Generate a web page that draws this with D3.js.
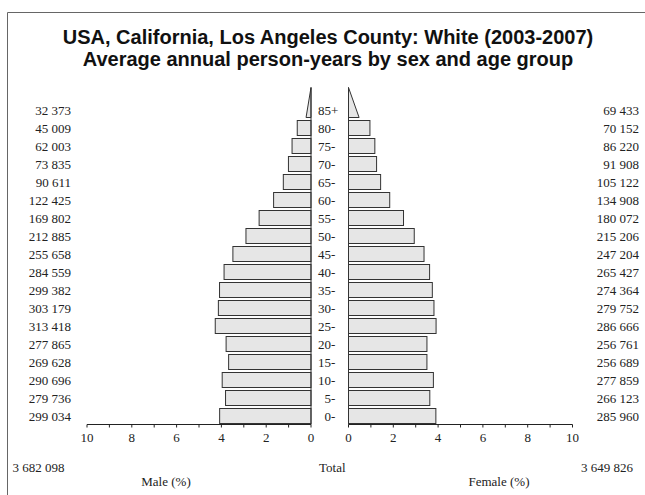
<!DOCTYPE html>
<html>
<head>
<meta charset="utf-8">
<script src="https://cdn.jsdelivr.net/npm/d3@7"></script>
<style>
  body { margin: 0; background: #fff; }
  text { font-family: "Liberation Serif", "Times New Roman", serif; font-size: 13px; fill: #222; }
  .title { font-family: "Liberation Sans", Arial, sans-serif; font-weight: bold; font-size: 20px; fill: #111; }
</style>
</head>
<body>
<div id="chart"></div>
<script>
var w = 645;
var h = 495;

// age groups, youngest first
var ages = ["0-", "5-", "10-", "15-", "20-", "25-", "30-", "35-", "40-", "45-",
            "50-", "55-", "60-", "65-", "70-", "75-", "80-", "85+"];
var male = [299034, 279736, 290696, 269628, 277865, 313418, 303179, 299382, 284559, 255658,
            212885, 169802, 122425, 90611, 73835, 62003, 45009, 32373];
var female = [285960, 266123, 277859, 256689, 256761, 286666, 279752, 274364, 265427, 247204,
              215206, 180072, 134908, 105122, 91908, 86220, 70152, 69433];
var maleTotal = 3682098;
var femaleTotal = 3649826;
var pctTicks = [0, 1, 2, 3, 4, 5, 6, 7, 8, 9, 10];
var pctLabels = [0, 2, 4, 6, 8, 10];

var total = maleTotal + femaleTotal;
var fmt = function(v) { return d3.format(",")(v).replace(/,/g, " "); };

var svg = d3.select("#chart")
  .append("svg")
  .attr("width", w)
  .attr("height", h);

// frame
svg.append("path")
  .attr("d", "M7.5," + h + "V12.5H" + w)
  .attr("fill", "none")
  .attr("stroke", "#666")
  .attr("stroke-width", 1);

// titles
svg.append("text").attr("class", "title")
  .attr("x", 328).attr("y", 44).attr("text-anchor", "middle")
  .text("USA, California, Los Angeles County: White (2003-2007)");
svg.append("text").attr("class", "title")
  .attr("x", 328).attr("y", 66).attr("text-anchor", "middle")
  .text("Average annual person-years by sex and age group");

// scales
var xMale = d3.scaleLinear().domain([0, 10]).range([311, 87]);
var xFemale = d3.scaleLinear().domain([0, 10]).range([348.5, 572.5]);
var y = d3.scaleBand()
  .domain(ages.slice().reverse())
  .range([101, 425])
  .paddingInner(1 / 6)
  .paddingOuter(1 / 12);
var bw = y.bandwidth();
var axisY = 424.5;

var rows = ages.map(function(a, i) {
  return { age: a, m: male[i], f: female[i], mp: male[i] / total * 100, fp: female[i] / total * 100 };
});
var openRows = rows.filter(function(d) { return d.age == "85+"; });
var barRows = rows.filter(function(d) { return d.age != "85+"; });

function drawSide(x, key) {
  svg.selectAll("rect." + key)
    .data(barRows)
    .enter()
    .append("rect")
    .attr("class", key)
    .attr("x", function(d) { return Math.min(x(0), x(d[key])); })
    .attr("y", function(d) { return y(d.age); })
    .attr("width", function(d) { return Math.abs(x(d[key]) - x(0)); })
    .attr("height", bw)
    .attr("fill", "#e6e6e6")
    .attr("stroke", "#333")
    .attr("stroke-width", 1);

  // open-ended group drawn as a triangle
  svg.selectAll("path." + key)
    .data(openRows)
    .enter()
    .append("path")
    .attr("class", key)
    .attr("d", function(d) {
      var b = y(d.age) + bw;
      var t = b - 2 * bw;
      var xe = x(d[key] / 2);
      return "M" + x(0) + "," + t + "L" + xe + "," + b + "L" + x(0) + "," + b + "Z";
    })
    .attr("fill", "#e6e6e6")
    .attr("stroke", "#333")
    .attr("stroke-width", 1);

  // baseline
  var topY = y("85+") + bw - 2 * bw;
  svg.append("line")
    .attr("x1", x(0)).attr("x2", x(0))
    .attr("y1", topY).attr("y2", axisY)
    .attr("stroke", "#333");

  // axis
  svg.append("line")
    .attr("x1", x(0)).attr("x2", x(10))
    .attr("y1", axisY).attr("y2", axisY)
    .attr("stroke", "#222");
  svg.selectAll("line.tick" + key)
    .data(pctTicks)
    .enter()
    .append("line")
    .attr("x1", function(d) { return x(d); })
    .attr("x2", function(d) { return x(d); })
    .attr("y1", axisY).attr("y2", axisY + 3)
    .attr("stroke", "#222");
  svg.selectAll("text.tick" + key)
    .data(pctLabels)
    .enter()
    .append("text")
    .attr("x", function(d) { return x(d); })
    .attr("y", axisY + 17)
    .attr("text-anchor", "middle")
    .text(function(d) { return d; });
}

drawSide(xMale, "mp");
drawSide(xFemale, "fp");

// age labels
svg.selectAll("text.age")
  .data(rows)
  .enter()
  .append("text")
  .attr("x", function(d) { return d.age.length < 3 ? 324.5 : 318; })
  .attr("y", function(d) { return y(d.age) + bw / 2 + 4.5; })
  .text(function(d) { return d.age; });

// value labels
svg.selectAll("text.mval")
  .data(rows)
  .enter()
  .append("text")
  .attr("x", 71)
  .attr("y", function(d) { return y(d.age) + bw / 2 + 4.5; })
  .attr("text-anchor", "end")
  .text(function(d) { return fmt(d.m); });
svg.selectAll("text.fval")
  .data(rows)
  .enter()
  .append("text")
  .attr("x", 639)
  .attr("y", function(d) { return y(d.age) + bw / 2 + 4.5; })
  .attr("text-anchor", "end")
  .text(function(d) { return fmt(d.f); });

// totals and axis titles
svg.append("text").attr("x", 12.5).attr("y", 471.5).text(fmt(maleTotal));
svg.append("text").attr("x", 319).attr("y", 471.5).text("Total");
svg.append("text").attr("x", 633).attr("y", 471.5).attr("text-anchor", "end").text(fmt(femaleTotal));
svg.append("text").attr("x", 166).attr("y", 486).attr("text-anchor", "middle").text("Male (%)");
svg.append("text").attr("x", 499).attr("y", 486).attr("text-anchor", "middle").text("Female (%)");
</script>
</body>
</html>
